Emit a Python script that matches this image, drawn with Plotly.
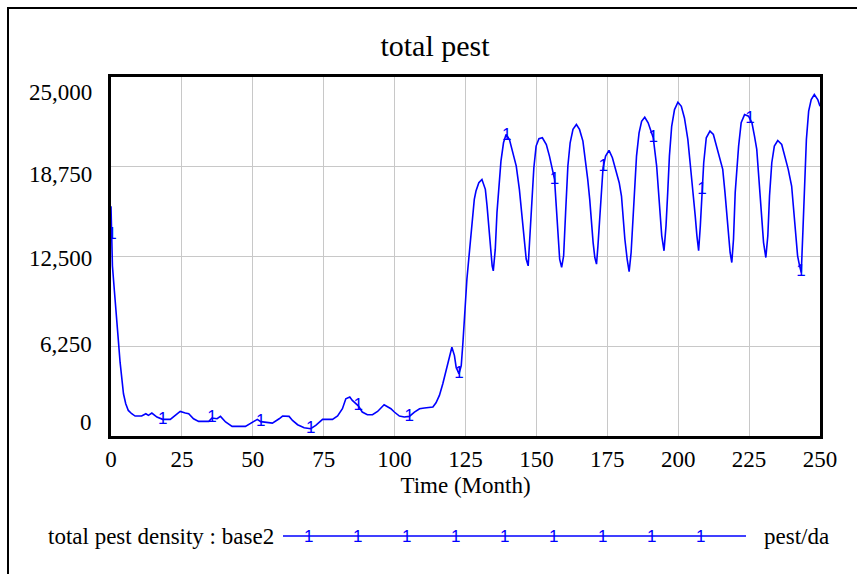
import numpy as np
import plotly.graph_objects as go

# ---- data ----
time_month = [0, 0.3, 0.5, 1.2, 2.0, 2.6, 3.2, 3.8, 4.4, 5.2, 6.1, 7.3, 8.5, 10.8, 12.3, 13.2, 14.4, 16.2,
              18.2, 20.9, 22.6, 24.4, 26.2, 27.4, 29.1, 30.9, 34.5, 35.6, 37.4, 38.6, 40.4, 42.7, 47.4,
              49.8, 51.6, 52.8, 56.9, 59.3, 60.5, 62.8, 64.0, 65.8, 68.1, 70.4, 72.2, 74.6, 78.1, 79.9,
              81.6, 82.8, 84.2, 85.1, 86.3, 87.2, 88.6, 90.4, 92.2, 94.0, 96.3, 97.5, 98.7, 99.9, 101.7,
              103.4, 105.2, 107.0, 108.8, 110.5, 113.5, 114.6, 115.8, 117.0, 118.2, 119.4, 120.2, 121.1,
              121.7, 122.7, 123.5, 124.1, 124.7, 125.5, 126.2, 126.9, 127.5, 128.1, 128.7, 129.7, 130.8,
              132.0, 132.6, 133.2, 133.8, 134.4, 134.8, 135.5, 136.1, 136.9, 137.5, 138.4, 139.3, 140.5,
              141.7, 142.9, 144.0, 145.0, 145.8, 146.4, 147.1, 147.8, 148.5, 149.1, 149.9, 150.9, 152.1,
              153.5, 154.6, 155.8, 156.4, 157.0, 157.6, 158.2, 158.9, 159.6, 160.3, 161.1, 161.9, 162.9,
              164.1, 165.2, 166.4, 167.3, 168.1, 168.8, 169.4, 170.0, 170.6, 171.2, 171.7, 172.3, 172.9,
              173.5, 174.4, 175.6, 176.8, 178.0, 179.2, 180.0, 180.6, 181.2, 182.0, 182.7, 183.4, 184.1,
              184.7, 185.3, 186.2, 187.1, 188.2, 189.4, 190.6, 191.2, 192.4, 193.0, 193.6, 194.2, 195.0,
              195.7, 196.3, 196.9, 197.7, 198.7, 199.9, 201.1, 202.2, 203.4, 204.2, 205.2, 206.0, 206.6,
              207.2, 207.8, 208.4, 209.0, 209.9, 211.2, 212.4, 213.6, 214.8, 215.7, 216.5, 217.1, 217.7,
              218.3, 218.9, 219.5, 220.1, 220.7, 221.3, 222.2, 223.4, 224.8, 226.0, 226.9, 227.7, 228.3,
              228.9, 229.5, 230.1, 230.9, 231.6, 232.2, 233.0, 233.9, 235.1, 236.5, 237.7, 238.8, 240.0,
              240.9, 241.5, 242.1, 242.8, 243.4, 244.0, 244.6, 245.2, 246.0, 246.9, 248.0, 249.2, 250.0]

total_pest_density = [16000, 14000, 11850, 10100, 8380, 6640, 5140, 3750, 2940, 2245, 1780, 1550, 1390, 1390,
                      1550, 1435, 1600, 1320, 1160, 1160, 1435, 1710, 1600, 1550, 1200, 1020, 1020, 1250,
                      1200, 1365, 975, 670, 670, 970, 1160, 1000, 900, 1200, 1390, 1365, 1085, 785, 580, 510,
                      740, 1160, 1160, 1390, 1900, 2590, 2710, 2480, 2245, 2100, 1670, 1480, 1480, 1710,
                      2175, 2015, 1900, 1670, 1390, 1320, 1365, 1670, 1900, 1945, 2015, 2315, 2825, 3635,
                      4675, 5720, 6180, 5600, 4790, 4330, 4910, 6530, 8840, 10930, 12430, 13900, 15560,
                      16480, 17060, 17640, 17870, 17180, 16020, 14400, 13010, 11850, 11500, 13010, 15560,
                      17870, 19140, 20420, 21000, 20650, 19720, 18800, 17180, 15100, 13470, 12320, 11850,
                      14400, 16950, 18680, 20190, 20700, 20770, 20300, 19490, 18330, 17870, 16020, 14400,
                      12320, 11740, 12550, 15560, 18800, 20420, 21350, 21690, 21350, 20540, 19260, 17870,
                      16480, 14860, 13470, 12430, 11970, 13240, 14860, 16950, 18680, 19490, 19890, 19380,
                      18570, 17640, 16710, 15100, 13700, 12320, 11440, 12780, 15560, 17870, 19490, 21110,
                      21920, 22200, 21810, 21110, 20770, 18800, 16950, 15330, 13940, 12900, 14630, 16950,
                      19490, 21570, 22730, 23240, 22960, 22150, 20650, 19030, 17180, 15330, 13940, 12900,
                      14630, 17180, 19030, 20770, 21230, 21000, 20070, 19260, 18570, 16950, 15330, 13940,
                      12780, 12080, 13700, 16950, 18800, 20190, 21810, 22380, 22270, 21810, 20880, 19960,
                      18330, 16480, 14860, 13470, 12430, 13940, 16710, 19030, 20190, 20580, 20300, 19490,
                      18570, 17410, 15560, 13940, 12550, 11850, 11390, 14400, 18100, 20650, 22620, 23430,
                      23780, 23430, 22960]

marker_times = [0.3, 18.2, 35.6, 52.8, 70.4, 87.2, 105.2, 122.7, 139.5, 156.4, 173.6, 191.2, 208.4, 225.3, 243.3]
x_ticks = [0, 25, 50, 75, 100, 125, 150, 175, 200, 225, 250]
y_ticks = [0, 6250, 12500, 18750, 25000]
y_tick_text = ["0", "6,250", "12,500", "18,750", "25,000"]

# ---- style ----
FONT = "Liberation Serif"
BLUE = "#0000ff"
W, H = 857, 574
L, R, T, B = 111, 37, 77, 138
PW, PH = W - L - R, H - T - B


def px_x(x):
    return (x - L) / PW


def px_y(y):
    return (H - B - y) / PH


fig = go.Figure()
fig.add_trace(go.Scatter(x=time_month, y=total_pest_density, mode="lines",
                         line=dict(color=BLUE, width=1.6), showlegend=False, hoverinfo="x+y"))
marker_vals = np.interp(marker_times, time_month, total_pest_density)
fig.add_trace(go.Scatter(x=marker_times, y=marker_vals, mode="text", text=["1"] * len(marker_times),
                         textfont=dict(family="Liberation Sans", size=17, color=BLUE),
                         textposition="middle center", showlegend=False, hoverinfo="skip"))

fig.update_layout(
    width=W, height=H,
    margin=dict(l=L, r=R, t=T, b=B),
    paper_bgcolor="white", plot_bgcolor="white",
    font=dict(family=FONT, size=23, color="black"),
    title=dict(text="total pest", x=435 / W, xref="container", xanchor="center",
               y=1 - 45 / H, yref="container", yanchor="middle",
               font=dict(family=FONT, size=30, color="black")),
    showlegend=False,
)
fig.update_xaxes(range=[0, 250], tickvals=x_ticks, showgrid=True, gridcolor="#c8c8c8", gridwidth=1,
                 showline=True, linecolor="black", linewidth=3, mirror=True, zeroline=False,
                 ticks="", tickfont=dict(family=FONT, size=23),
                 title=dict(text="Time (Month)", font=dict(family=FONT, size=23), standoff=7))
fig.update_yaxes(range=[0, 25000], tickvals=y_ticks, showgrid=True, gridcolor="#c8c8c8", gridwidth=1,
                 showline=True, linecolor="black", linewidth=3, mirror=True, zeroline=False,
                 ticks="", showticklabels=False)

# y tick labels (Vensim places the end labels inside the axis span)
y_label_shift = [14, 2, -2, -8, -15]
for v, txt, s in zip(y_ticks, y_tick_text, y_label_shift):
    fig.add_annotation(x=0, xref="paper", y=v, yref="y", text=txt, showarrow=False,
                       xanchor="right", yanchor="middle", xshift=-17, yshift=s,
                       font=dict(family=FONT, size=23, color="black"))

# outer frame
fig.add_shape(type="rect", xref="paper", yref="paper",
              x0=px_x(8), x1=px_x(880), y0=px_y(600), y1=px_y(8),
              line=dict(color="black", width=2), fillcolor="rgba(0,0,0,0)", layer="above")

# legend row
leg_y = px_y(536)
fig.add_annotation(x=px_x(276), y=leg_y, xref="paper", yref="paper", text="total pest density : base2",
                   showarrow=False, xanchor="right", yanchor="middle",
                   font=dict(family=FONT, size=23, color="black"))
fig.add_shape(type="line", xref="paper", yref="paper", x0=px_x(283), x1=px_x(746), y0=leg_y, y1=leg_y,
              line=dict(color=BLUE, width=1.6))
for k in range(9):
    fig.add_annotation(x=px_x(308 + 49 * k), y=leg_y, xref="paper", yref="paper", text="1",
                       showarrow=False, xanchor="center", yanchor="middle",
                       font=dict(family="Liberation Sans", size=17, color=BLUE))
fig.add_annotation(x=px_x(762), y=leg_y, xref="paper", yref="paper", text="pest/da",
                   showarrow=False, xanchor="left", yanchor="middle",
                   font=dict(family=FONT, size=23, color="black"))

fig.write_html("out.html")
